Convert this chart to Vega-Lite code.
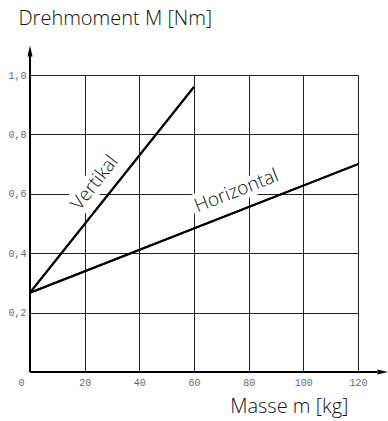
{
  "$schema": "https://vega.github.io/schema/vega-lite/v6.json",
  "width": 328,
  "height": 297,
  "autosize": "none",
  "padding": {"left": 30, "top": 75, "right": 30, "bottom": 49},
  "background": "white",
  "config": {"view": {"stroke": null}},
  "datasets": {
    "lines": [
      {"series": "Vertikal", "m": 0, "M": 0.267},
      {"series": "Vertikal", "m": 60, "M": 0.96},
      {"series": "Horizontal", "m": 0, "M": 0.267},
      {"series": "Horizontal", "m": 120, "M": 0.70}
    ],
    "labels": [
      {"label": "Vertikal", "m": 23.6, "M": 0.637},
      {"label": "Horizontal", "m": 75.5, "M": 0.61}
    ],
    "axes": [
      {"axis": "y", "m": 0, "M": 0, "m2": 0, "M2": 1.08},
      {"axis": "x", "m": 0, "M": 0, "m2": 127, "M2": 0}
    ],
    "arrows": [
      {"axis": "y", "m": 0, "M": 1.081},
      {"axis": "x", "m": 129.1, "M": 0}
    ]
  },
  "layer": [
    {
      "data": {"name": "lines"},
      "mark": {"type": "line", "color": "black", "strokeWidth": 2},
      "encoding": {
        "x": {
          "field": "m", "type": "quantitative",
          "scale": {"domain": [0, 120], "nice": false},
          "axis": {
            "values": [0, 20, 40, 60, 80, 100, 120],
            "grid": true, "gridColor": "#222", "gridWidth": 1, "gridOpacity": 1,
            "domain": false, "ticks": false,
            "labelFont": "Liberation Mono", "labelFontSize": 10, "labelColor": "#666",
            "labelPadding": 5,
            "labelAlign": {"condition": {"test": "datum.value == 0", "value": "right"}, "value": "center"},
            "labelOffset": {"condition": {"test": "datum.value == 0", "value": -6}, "value": 0},
            "title": "Masse m [kg]",
            "titleFont": "Open Sans", "titleFontSize": 20, "titleFontWeight": 300, "titleColor": "#111",
            "titleAlign": "right", "titleAnchor": null, "titleX": 318, "titleY": 34, "titleBaseline": "middle"
          }
        },
        "y": {
          "field": "M", "type": "quantitative",
          "scale": {"domain": [0, 1], "nice": false},
          "axis": {
            "values": [0, 0.1, 0.2, 0.3, 0.4, 0.5, 0.6, 0.7, 0.8, 0.9, 1.0],
            "grid": true, "gridColor": "#222", "gridWidth": 1, "gridOpacity": 1,
            "domain": false, "ticks": false,
            "labelExpr": "(datum.value > 0.05 && round(datum.value*10) % 2 == 0) ? replace(format(datum.value, '.1f'), '.', ',') : ''",
            "labelFont": "Liberation Mono", "labelFontSize": 10, "labelColor": "#666",
            "labelPadding": 4,
            "title": "Drehmoment M [Nm]",
            "titleFont": "Open Sans", "titleFontSize": 20, "titleFontWeight": 300, "titleColor": "#111",
            "titleAngle": 0, "titleAlign": "left", "titleAnchor": null, "titleX": -12, "titleY": -57, "titleBaseline": "middle"
          }
        },
        "detail": {"field": "series"}
      }
    },
    {
      "data": {"name": "axes"},
      "mark": {"type": "rule", "color": "black", "strokeWidth": 2},
      "encoding": {
        "x": {"field": "m", "type": "quantitative"},
        "y": {"field": "M", "type": "quantitative"},
        "x2": {"field": "m2"},
        "y2": {"field": "M2"}
      }
    },
    {
      "data": {"name": "arrows"},
      "transform": [{"filter": "datum.axis == 'y'"}],
      "mark": {"type": "point", "shape": "M0,-0.55L0.25,0.55L-0.25,0.55Z", "filled": true, "color": "black", "opacity": 1, "size": 400},
      "encoding": {
        "x": {"field": "m", "type": "quantitative"},
        "y": {"field": "M", "type": "quantitative"}
      }
    },
    {
      "data": {"name": "arrows"},
      "transform": [{"filter": "datum.axis == 'x'"}],
      "mark": {"type": "point", "shape": "M0.55,0L-0.55,-0.25L-0.55,0.25Z", "filled": true, "color": "black", "opacity": 1, "size": 400},
      "encoding": {
        "x": {"field": "m", "type": "quantitative"},
        "y": {"field": "M", "type": "quantitative"}
      }
    },
    {
      "data": {"name": "labels"},
      "transform": [{"filter": "datum.label == 'Vertikal'"}],
      "mark": {"type": "text", "font": "Open Sans", "fontWeight": 300, "fontSize": 19, "angle": 308, "color": "white", "stroke": "white", "strokeWidth": 10, "align": "center", "baseline": "middle"},
      "encoding": {
        "x": {"field": "m", "type": "quantitative"},
        "y": {"field": "M", "type": "quantitative"},
        "text": {"field": "label"}
      }
    },
    {
      "data": {"name": "labels"},
      "transform": [{"filter": "datum.label == 'Horizontal'"}],
      "mark": {"type": "text", "font": "Open Sans", "fontWeight": 300, "fontSize": 19, "angle": 338.6, "color": "white", "stroke": "white", "strokeWidth": 10, "align": "center", "baseline": "middle"},
      "encoding": {
        "x": {"field": "m", "type": "quantitative"},
        "y": {"field": "M", "type": "quantitative"},
        "text": {"field": "label"}
      }
    },
    {
      "data": {"name": "lines"},
      "mark": {"type": "line", "color": "black", "strokeWidth": 2},
      "encoding": {
        "x": {"field": "m", "type": "quantitative"},
        "y": {"field": "M", "type": "quantitative"},
        "detail": {"field": "series"}
      }
    },
    {
      "data": {"name": "labels"},
      "transform": [{"filter": "datum.label == 'Vertikal'"}],
      "mark": {"type": "text", "font": "Open Sans", "fontWeight": 300, "fontSize": 19, "angle": 308, "color": "#111", "align": "center", "baseline": "middle"},
      "encoding": {
        "x": {"field": "m", "type": "quantitative"},
        "y": {"field": "M", "type": "quantitative"},
        "text": {"field": "label"}
      }
    },
    {
      "data": {"name": "labels"},
      "transform": [{"filter": "datum.label == 'Horizontal'"}],
      "mark": {"type": "text", "font": "Open Sans", "fontWeight": 300, "fontSize": 19, "angle": 338.6, "color": "#111", "align": "center", "baseline": "middle"},
      "encoding": {
        "x": {"field": "m", "type": "quantitative"},
        "y": {"field": "M", "type": "quantitative"},
        "text": {"field": "label"}
      }
    }
  ]
}
